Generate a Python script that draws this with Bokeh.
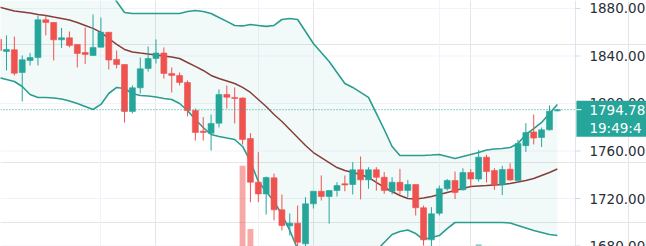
from bokeh.plotting import figure
from bokeh.models import Range1d, FixedTicker, Grid, ColumnDataSource
from bokeh.core.properties import value
from bokeh.embed import file_html
from bokeh.resources import INLINE

# ---- data (one candle per bar, oldest first) ----
opens = [1853.9, 1843.8, 1845.2, 1826.1, 1836.2, 1838.7, 1870.5, 1868.2, 1853.6, 1855.3,
         1849.7, 1842.9, 1840.4, 1847.4, 1860.0, 1837.1, 1832.8, 1793.3, 1813.2, 1829.5,
         1837.9, 1842.5, 1825.3, 1823.6, 1817.7, 1794.1, 1776.7, 1775.0, 1783.4, 1807.6,
         1805.1, 1804.6, 1770.5, 1733.7, 1723.9, 1737.4, 1710.5, 1697.0, 1699.2, 1681.9,
         1715.5, 1726.1, 1721.7, 1726.7, 1732.4, 1731.8, 1744.2, 1735.7, 1744.2, 1737.9,
         1726.1, 1733.7, 1726.7, 1731.8, 1712.2, 1685.2, 1707.6, 1728.2, 1735.2, 1727.3,
         1741.9, 1736.4, 1754.8, 1743.6, 1731.5, 1744.7, 1735.2, 1764.5, 1776.0, 1771.4,
         1777.8, 1793.8]
highs = [1855.6, 1857.3, 1856.4, 1840.4, 1842.6, 1874.1, 1874.1, 1868.5, 1863.6, 1860.6,
         1850.1, 1864.0, 1874.9, 1872.4, 1860.0, 1844.6, 1832.8, 1815.2, 1838.7, 1848.0,
         1853.9, 1847.2, 1830.3, 1826.1, 1819.4, 1795.8, 1788.5, 1790.7, 1811.8, 1815.2,
         1813.5, 1805.1, 1775.0, 1759.0, 1738.5, 1741.0, 1723.4, 1707.4, 1714.1, 1721.1,
         1726.1, 1739.4, 1726.7, 1733.7, 1739.4, 1750.6, 1755.4, 1746.4, 1746.4, 1742.2,
         1737.9, 1745.0, 1735.7, 1731.8, 1714.1, 1712.7, 1730.9, 1736.4, 1742.7, 1745.5,
         1744.8, 1761.0, 1756.8, 1745.5, 1747.5, 1749.7, 1769.4, 1783.4, 1790.7, 1779.8,
         1798.3, 1795.3]
lows = [1842.1, 1827.8, 1823.6, 1801.7, 1832.0, 1832.0, 1857.3, 1836.2, 1846.7, 1847.2,
        1830.3, 1833.3, 1840.4, 1847.4, 1828.6, 1829.5, 1784.0, 1791.6, 1808.4, 1826.9,
        1833.7, 1821.0, 1809.3, 1815.2, 1789.1, 1768.8, 1768.8, 1760.4, 1779.8, 1795.8,
        1783.2, 1765.5, 1716.9, 1716.9, 1706.5, 1701.5, 1693.1, 1688.8, 1678.7, 1678.7,
        1711.6, 1718.3, 1698.9, 1721.7, 1726.1, 1723.4, 1719.2, 1728.2, 1726.7, 1723.9,
        1723.4, 1723.4, 1721.1, 1705.7, 1680.4, 1678.7, 1705.7, 1726.7, 1719.5, 1726.7,
        1730.1, 1734.3, 1733.5, 1727.3, 1722.9, 1734.8, 1733.5, 1759.2, 1765.5, 1763.4,
        1777.3, 1793.3]
closes = [1844.6, 1845.5, 1825.5, 1836.8, 1838.7, 1870.5, 1868.2, 1853.6, 1855.3, 1848.8,
          1842.1, 1841.3, 1847.2, 1860.0, 1836.6, 1832.8, 1793.3, 1813.2, 1829.2, 1837.9,
          1842.5, 1825.3, 1823.6, 1817.7, 1794.1, 1775.6, 1775.6, 1783.2, 1807.6, 1805.3,
          1804.2, 1769.7, 1733.7, 1723.9, 1737.7, 1710.5, 1697.3, 1699.2, 1683.2, 1715.5,
          1726.1, 1721.7, 1726.7, 1730.9, 1731.4, 1744.2, 1735.7, 1744.2, 1737.9, 1726.7,
          1733.7, 1726.7, 1731.8, 1712.2, 1685.2, 1707.1, 1728.2, 1735.2, 1725.0, 1741.9,
          1736.4, 1754.8, 1742.7, 1731.5, 1744.4, 1735.6, 1766.3, 1775.6, 1770.9, 1777.8,
          1793.5, 1794.78]
volumes = [7800, 6900, 8400, 9100, 5200, 10400, 6100, 8800, 5600, 6300,
           7100, 7900, 8600, 9300, 10100, 6800, 11300, 9600, 8200, 7700,
           6400, 8900, 7400, 5900, 10800, 11100, 7600, 9800, 10600, 6900,
           8300, 21200, 14000, 10900, 9700, 11200, 9900, 7300, 10700, 11400,
           7800, 6600, 9100, 5800, 5300, 8700, 9400, 6700, 6200, 7900,
           6100, 7400, 5900, 9600, 11300, 10900, 9800, 6300, 8600, 7900,
           6900, 12250, 8800, 8100, 8700, 6500, 11400, 9200, 10200, 7600,
           10500, 1200]

# Bollinger bands (upper, basis, lower)
bb_upper = [1940.7, 1939.0, 1937.3, 1939.9, 1944.8, 1944.8, 1943.2, 1941.0, 1939.4, 1938.5,
            1936.4, 1933.9, 1931.5, 1910.0, 1896.0, 1885.9, 1876.6, 1875.8, 1875.8, 1875.8,
            1875.8, 1875.8, 1875.8, 1875.8, 1877.5, 1878.3, 1877.5, 1875.8, 1872.4, 1869.1,
            1865.7, 1865.3, 1866.5, 1865.7, 1864.9, 1865.7, 1870.7, 1871.6, 1870.7, 1860.6,
            1850.5, 1842.9, 1835.4, 1826.1, 1816.8, 1813.5, 1809.3, 1805.1, 1791.6, 1778.1,
            1763.8, 1756.2, 1756.2, 1756.2, 1756.2, 1756.6, 1757.1, 1755.4, 1753.7, 1755.4,
            1757.1, 1758.7, 1760.8, 1761.7, 1762.1, 1762.9, 1766.3, 1773.9, 1778.9, 1784.0,
            1791.6, 1799.2]
bb_basis = [1881.3, 1879.6, 1877.9, 1877.1, 1876.2, 1874.9, 1874.1, 1872.8, 1871.6, 1870.3,
            1868.2, 1865.7, 1863.2, 1859.8, 1854.7, 1849.7, 1845.5, 1843.4, 1842.5, 1841.7,
            1840.8, 1840.0, 1839.2, 1837.9, 1834.5, 1831.2, 1827.8, 1823.6, 1821.0, 1818.9,
            1816.8, 1813.5, 1809.3, 1803.4, 1797.5, 1790.7, 1784.8, 1778.1, 1771.4, 1764.6,
            1758.7, 1754.5, 1750.3, 1746.1, 1743.6, 1741.9, 1740.2, 1737.7, 1733.5, 1729.3,
            1725.9, 1722.5, 1720.0, 1719.6, 1720.4, 1721.7, 1723.4, 1725.1, 1726.7, 1728.4,
            1730.1, 1730.5, 1730.9, 1731.4, 1731.8, 1732.6, 1733.9, 1735.2, 1736.8, 1739.4,
            1741.9, 1744.8]
bb_lower = [1821.9, 1820.2, 1818.5, 1814.3, 1807.6, 1805.0, 1805.0, 1804.6, 1803.8, 1802.1,
            1800.0, 1797.5, 1794.9, 1799.2, 1808.4, 1813.5, 1812.6, 1808.4, 1806.7, 1806.3,
            1805.5, 1804.2, 1803.4, 1800.0, 1794.1, 1786.5, 1779.8, 1773.9, 1772.2, 1770.9,
            1769.7, 1763.8, 1751.2, 1734.3, 1725.9, 1717.5, 1706.5, 1693.1, 1677.5, 1669.0,
            1667.0, 1666.0, 1665.5, 1666.0, 1669.0, 1670.0, 1670.5, 1671.0, 1676.0, 1683.0,
            1689.7, 1692.2, 1693.5, 1690.5, 1685.5, 1687.2, 1688.8, 1694.7, 1699.8, 1699.8,
            1699.8, 1699.8, 1699.8, 1699.8, 1699.8, 1699.4, 1697.3, 1695.2, 1693.1, 1691.4,
            1689.7, 1688.8]

price_ticks = [1680, 1720, 1760, 1800, 1840, 1880]
time_grid_bars = [13, 33, 56]
last_price = 1794.78
last_time = "19:49:4"

UP = "#26a69a"
DOWN = "#ef5350"
FONT = value("DejaVu Sans")

W, H = 646, 246
X0, X1 = 0.24, 82.33          # bar-index range across the whole canvas
Y0, Y1 = 1679.6, 1886.7       # price range
PANE_END = 73.3               # bar index where the price scale begins
px_x = (X1 - X0) / W          # bar units per pixel
px_y = (Y1 - Y0) / H          # price units per pixel

n = len(opens)
idx = list(range(n))
is_up = [c >= o for o, c in zip(opens, closes)]
src = ColumnDataSource(dict(
    x=idx, open=opens, high=highs, low=lows, close=closes, vol=volumes,
    top=[max(o, c) for o, c in zip(opens, closes)],
    bottom=[min(o, c) for o, c in zip(opens, closes)],
    color=[UP if u else DOWN for u in is_up],
    upper=bb_upper, basis=bb_basis, lower=bb_lower,
))

p = figure(width=W, height=H, x_range=Range1d(X0, X1), y_range=Range1d(Y0, Y1),
           x_axis_location=None, y_axis_location=None,
           output_backend="svg", toolbar_location=None, min_border=0)
p.outline_line_color = None
p.background_fill_color = "white"
p.border_fill_color = "white"
p.extra_y_ranges = {"vol": Range1d(12000, 40000)}

# grid: vertical time lines + horizontal price lines (inside the pane only)
p.add_layout(Grid(dimension=0, ticker=FixedTicker(ticks=time_grid_bars),
                  grid_line_color="#f0f3fa", grid_line_width=1))
p.segment(x0=[X0] * len(price_ticks), y0=price_ticks,
          x1=[PANE_END] * len(price_ticks), y1=price_ticks,
          line_color="#f0f3fa", line_width=1)

# Bollinger fill
p.varea(x="x", y1="lower", y2="upper", source=src, fill_color=UP, fill_alpha=0.06)

# volume
p.vbar(x="x", top="vol", bottom=0, width=0.75, source=src, y_range_name="vol",
       fill_color="color", line_color=None, fill_alpha=0.5)

# bands
p.line("x", "upper", source=src, line_color="#2a9d8f", line_width=1.6)
p.line("x", "lower", source=src, line_color="#2a9d8f", line_width=1.6)
p.line("x", "basis", source=src, line_color="#873e3a", line_width=1.5)

# candles
p.segment(x0="x", y0="low", x1="x", y1="high", source=src, line_color="color", line_width=1)
p.vbar(x="x", top="top", bottom="bottom", width=0.76, source=src,
       fill_color="color", line_color="color", line_width=0.6)

# last price dotted line
p.segment(x0=[X0], y0=[last_price], x1=[PANE_END], y1=[last_price],
          line_color=UP, line_dash="1 2", line_width=1)

# price scale: axis line, ticks, labels
p.segment(x0=[PANE_END], y0=[Y0], x1=[PANE_END], y1=[Y1], line_color="#e0e3eb", line_width=1)
p.segment(x0=[PANE_END] * len(price_ticks), y0=price_ticks,
          x1=[PANE_END + 5 * px_x] * len(price_ticks), y1=price_ticks,
          line_color="#d6d9e0", line_width=1)
p.text(x=[PANE_END + 14 * px_x] * len(price_ticks), y=price_ticks,
       text=["%.2f" % t for t in price_ticks],
       text_font=FONT, text_font_size="13.5px", text_color="#2a2e39",
       text_align="left", text_baseline="middle")

# last price tag
p.quad(left=[PANE_END + 1 * px_x], right=[X1 + 2 * px_x],
       top=[last_price + 9 * px_y], bottom=[last_price - 27 * px_y],
       fill_color=UP, line_color=None)
p.segment(x0=[PANE_END + 1 * px_x], y0=[last_price], x1=[PANE_END + 6 * px_x], y1=[last_price],
          line_color="white", line_width=1)
p.text(x=[PANE_END + 14 * px_x], y=[last_price], text=["%.2f" % last_price],
       text_font=FONT, text_font_size="13.5px", text_color="white",
       text_align="left", text_baseline="middle")
p.text(x=[PANE_END + 14 * px_x], y=[last_price], y_offset=18, text=[last_time],
       text_font=FONT, text_font_size="13.5px", text_color="white",
       text_align="left", text_baseline="middle")

open("out.html", "w").write(file_html(p, INLINE))
